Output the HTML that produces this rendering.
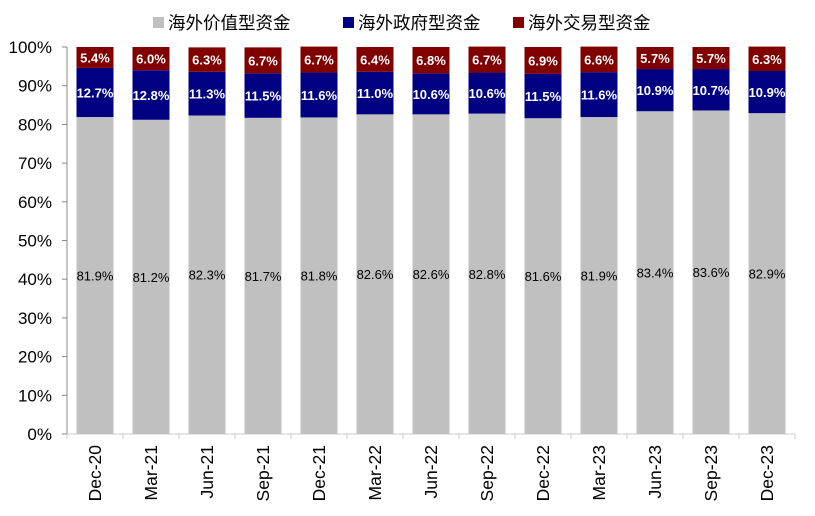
<!DOCTYPE html>
<html><head><meta charset="utf-8"><style>
body{margin:0;background:#fff;}
svg{display:block;font-family:"Liberation Sans","Noto Sans CJK SC",sans-serif;}
</style></head><body>
<svg id="c" width="815" height="516"></svg>
<script>
const categories=["Dec-20","Mar-21","Jun-21","Sep-21","Dec-21","Mar-22","Jun-22","Sep-22","Dec-22","Mar-23","Jun-23","Sep-23","Dec-23"];
const valueFund=[81.9,81.2,82.3,81.7,81.8,82.6,82.6,82.8,81.6,81.9,83.4,83.6,82.9];
const govFund=[12.7,12.8,11.3,11.5,11.6,11.0,10.6,10.6,11.5,11.6,10.9,10.7,10.9];
const tradeFund=[5.4,6.0,6.3,6.7,6.7,6.4,6.8,6.7,6.9,6.6,5.7,5.7,6.3];
const yTicks=[0,10,20,30,40,50,60,70,80,90,100];
const seriesNames=["海外价值型资金","海外政府型资金","海外交易型资金"];
const colors=["#c0c0c0","#000080","#800000"];
const labelColors=["#000","#fff","#fff"];
const NS="http://www.w3.org/2000/svg";
const svg=document.getElementById("c");
const x0=67,step=56,bw=37,yTop=47,yBot=434;
const y=v=>yBot-(v/100)*(yBot-yTop);
const xc=i=>x0+step*i+step/2;
function mk(t,a,p){const e=document.createElementNS(NS,t);for(const k in a)e.setAttribute(k,a[k]);(p||svg).appendChild(e);return e;}
const ax=mk("line",{x1:x0,y1:yTop,x2:x0,y2:yBot,stroke:"#888"});


const bx=mk("line",{x1:x0,y1:yBot,x2:x0+step*categories.length,y2:yBot,stroke:"#ccc"});


yTicks.forEach(v=>{
  mk("line",{x1:x0-5,y1:y(v),x2:x0,y2:y(v),stroke:"#888"});
  const t=mk("text",{x:52,y:y(v)+6,"text-anchor":"end","font-size":"17",fill:"#000"});
  t.textContent=v+"%";
  
  
});
for(let i=0;i<=categories.length;i++)mk("line",{x1:x0+step*i,y1:yBot,x2:x0+step*i,y2:yBot+5,stroke:"#ccc"});
const series=[valueFund,govFund,tradeFund];
categories.forEach((c,i)=>{
  let base=0;
  series.forEach((s,k)=>{
    const v=s[i];
    const r=mk("rect",{x:xc(i)-bw/2,y:y(base+v),width:bw,height:y(base)-y(base+v),fill:colors[k]});
    
    
    const t=mk("text",{x:xc(i),y:(y(base)+y(base+v))/2+5,"text-anchor":"middle","font-size":"13",fill:labelColors[k],"font-weight":k?"bold":"normal"});
    t.textContent=v.toFixed(1)+"%";
    
    
    base+=v;
  });
  const cx=xc(i)+6,cy=445;
  const l=mk("text",{x:cx,y:cy,transform:`rotate(-90 ${cx} ${cy})`,"text-anchor":"end","font-size":"17.5",fill:"#000"});
  l.textContent=c;
  
  
});
const lx=[153,343,513];
seriesNames.forEach((n,k)=>{
  const g=mk("g",{});
  
  
  mk("rect",{x:lx[k],y:17,width:11,height:11,fill:colors[k]},g);
  const t=mk("text",{x:lx[k]+15,y:29,"font-size":"17.5",fill:"#000"},g);
  t.textContent=n;
});
</script>
</body></html>
